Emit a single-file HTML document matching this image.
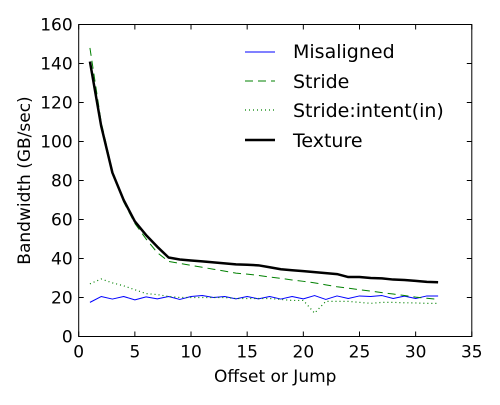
<!DOCTYPE html>
<html><head><meta charset="utf-8"><style>
body{margin:0;background:#fff;}
svg{font-family:"DejaVu Sans","Liberation Sans",sans-serif;}
</style></head><body>
<svg id="chart" width="500" height="400">
<rect x="0" y="0" width="500" height="400" fill="#fff"/>
<g id="series"></g>
<g id="axes"></g>
<g font-size="19">
 <line x1="245" y1="52" x2="275" y2="52" stroke="#0000ff" stroke-width="1"/>
 <text x="293" y="58">Misaligned</text>
 <line x1="245" y1="81" x2="275" y2="81" stroke="#008000" stroke-width="1" stroke-dasharray="8,5"/>
 <text x="293" y="88">Stride</text>
 <line x1="245" y1="110" x2="275" y2="110" stroke="#008000" stroke-width="1.2" stroke-dasharray="1,3"/>
 <text x="293" y="117">Stride:intent(in)</text>
 <line x1="245" y1="140" x2="275" y2="140" stroke="#000" stroke-width="2.5"/>
 <text x="293" y="147">Texture</text>
</g>
</svg>
<script>
const offsets = Array.from({length:32},(_,i)=>i+1);
const misaligned = [17.5,20.5,19.2,20.5,18.8,20.3,19.3,20.5,19,20.5,21,20,20.5,19.3,20.5,19.3,20.5,19.2,20.5,19.3,21,19,20.8,19.5,20.8,20.5,21,19.5,20.7,19.5,20.8,20.8];
const stride = [148,110,85,69,58,50,43,38.5,37.5,36.5,35.5,34.5,33.5,32.5,32,31.3,30.5,29.8,29,28.3,27.5,26.5,25.5,24.8,24,23.3,22.5,21.8,21,20.2,19.6,19];
const strideIntent = [27,29.5,27.5,26,24,22,21.5,20.5,20,20,20,20,20,19.5,19.5,19.5,19.5,19,18.5,18.5,12,18,18,18,17.5,17,17.5,17.5,17.3,17.2,17,17];
const texture = [141,108,84,70,59,52,46,40.5,39.5,39,38.5,38,37.5,37,36.8,36.5,35.5,34.5,34,33.5,33,32.5,32,30.5,30.5,30,29.8,29.2,29,28.5,28,27.8];
const xTicks = [0,5,10,15,20,25,30,35];
const yTicks = [0,20,40,60,80,100,120,140,160];

const L=78.7,R=471.8,T=24.5,B=336.5;
const sx=v=>L+(R-L)*v/35, sy=v=>B-(B-T)*v/160;
const NS='http://www.w3.org/2000/svg';
const series=document.getElementById('series'), axes=document.getElementById('axes');
function mk(tag,attrs,parent){const e=document.createElementNS(NS,tag);for(const k in attrs)e.setAttribute(k,attrs[k]);parent.appendChild(e);return e;}
function line(vals,stroke,w,dash,name){
  const p=mk('polyline',{points:vals.map((v,i)=>sx(offsets[i])+','+sy(v)).join(' '),fill:'none',stroke:stroke,'stroke-width':w,'stroke-dasharray':dash,'stroke-linejoin':'round'},series);
  
  
}
line(misaligned,'#0000ff',1,'none','series-misaligned');
line(stride,'#008000',1,'8,5','series-stride');
line(strideIntent,'#008000',1.2,'1,3','series-stride-intent');
line(texture,'#000',2.5,'none','series-texture');

const frame=mk('rect',{x:L,y:T,width:R-L,height:B-T,fill:'none',stroke:'#000','stroke-width':1},axes);


xTicks.forEach(t=>{
  const x=sx(t);
  mk('line',{x1:x,y1:B,x2:x,y2:B-5,stroke:'#000'},axes);
  mk('line',{x1:x,y1:T,x2:x,y2:T+5,stroke:'#000'},axes);
  const tx=mk('text',{x:x,y:B+21,'text-anchor':'middle','font-size':'17'},axes);
  tx.textContent=t;
  
  
});
yTicks.forEach(t=>{
  const y=sy(t);
  mk('line',{x1:L,y1:y,x2:L+5,y2:y,stroke:'#000'},axes);
  mk('line',{x1:R,y1:y,x2:R-5,y2:y,stroke:'#000'},axes);
  const tx=mk('text',{x:L-6,y:y+6,'text-anchor':'end','font-size':'17'},axes);
  tx.textContent=t;
  
  
});
const xt=mk('text',{x:(L+R)/2,y:382,'text-anchor':'middle','font-size':'17'},axes);
xt.textContent='Offset or Jump';


const yt=mk('text',{x:0,y:0,'text-anchor':'middle','font-size':'17',transform:'translate(30,'+((T+B)/2)+') rotate(-90)'},axes);
yt.textContent='Bandwidth (GB/sec)';


</script>
</body></html>
